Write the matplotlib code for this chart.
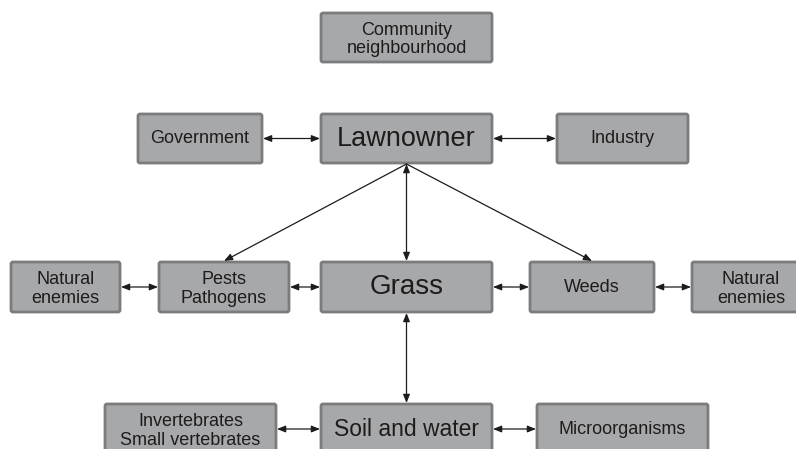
import matplotlib
matplotlib.use("Agg")
import matplotlib.pyplot as plt
from matplotlib.patches import FancyBboxPatch

plt.rcParams['font.family'] = ['Liberation Sans', 'DejaVu Sans']

# node labels
labels = ["Community\nneighbourhood", "Government", "Lawnowner", "Industry",
          "Natural\nenemies", "Pests\nPathogens", "Grass", "Weeds", "Natural\nenemies",
          "Invertebrates\nSmall vertebrates", "Soil and water", "Microorganisms"]
font_sizes = {"Lawnowner": 19.5, "Grass": 20, "Soil and water": 16.5}

# links: (from, to, both ends)
links = [(1, 2, True), (2, 3, True), (4, 5, True), (5, 6, True), (6, 7, True),
         (7, 8, True), (9, 10, True), (10, 11, True), (2, 6, True), (6, 10, True),
         (2, 5, False), (2, 7, False)]

# layout in pixels: left, top, right, bottom
boxes = [(321, 13, 492, 62), (138, 114, 262, 163), (321, 114, 492, 163), (557, 114, 688, 163),
         (11, 262, 120, 312), (159, 262, 289, 312), (321, 262, 492, 312), (530, 262, 654, 312),
         (692, 262, 810, 312),
         (105, 404, 276, 470), (321, 404, 492, 470), (537, 404, 708, 470)]

fig = plt.figure(figsize=(7.96, 4.49), dpi=100)
ax = fig.add_axes([0, 0, 1, 1])
ax.set_xlim(0, 796)
ax.set_ylim(449, 0)
ax.axis('off')

for lab, (l, t, r, b) in zip(labels, boxes):
    ax.add_patch(FancyBboxPatch((l, t), r - l, b - t, boxstyle="round,pad=0,rounding_size=2",
                                fc="#a7a8aa", ec="#7b7c7e", lw=2))
    cy = 429 if t > 400 else (t + b) / 2
    if "\n" in lab:
        cy += 2
    size = font_sizes.get(lab, 13)
    ax.text((l + r) / 2, cy, lab, ha='center', va='center', fontsize=size,
            color="#1e1b1c", linespacing=1.1)


def anchor(i, j):
    l1, t1, r1, b1 = boxes[i]
    l2, t2, r2, b2 = boxes[j]
    if abs(t1 - t2) < 5:
        y = 429 if t1 > 400 else (t1 + b1) / 2
        return (r1 + 1, y), (l2 - 1, y)
    x1 = (l1 + r1) / 2
    x2 = (l2 + r2) / 2
    return (x1, b1 + 1), (x2, t2 - 1)


for i, j, both in links:
    p1, p2 = anchor(i, j)
    style = '<|-|>' if both else '-|>'
    ax.annotate("", xy=p2, xytext=p1,
                arrowprops=dict(arrowstyle=style + ",head_length=0.5,head_width=0.2",
                                color="#1e1b1c", lw=0.9, shrinkA=0, shrinkB=0))

fig.savefig("out.png", dpi=100)
